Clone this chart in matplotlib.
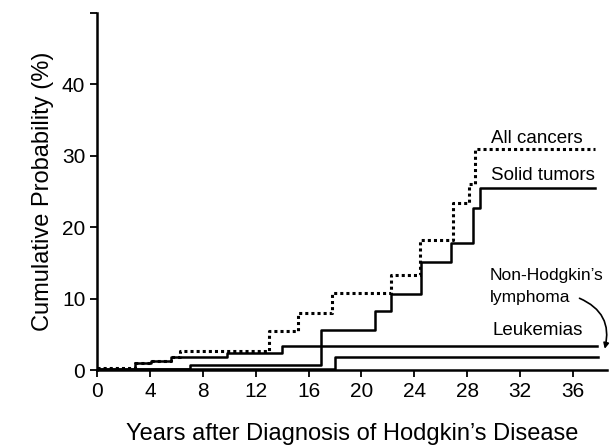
import matplotlib
matplotlib.use("Agg")
import matplotlib.pyplot as plt
import numpy as np

plt.rcParams['font.family'] = ['Liberation Sans', 'DejaVu Sans']

# step curves (years, cumulative %)
all_x = [0, 2.9, 4.05, 5.6, 6.3, 13.0, 15.2, 17.8, 22.2, 24.4, 26.9, 28.1, 28.6, 37.7]
all_y = [0.3, 1.0, 1.3, 1.8, 2.6, 5.5, 8.0, 10.8, 13.3, 18.2, 23.4, 26.0, 31.0, 31.0]

solid_x = [0, 7.0, 16.9, 21.0, 22.2, 24.5, 26.8, 28.4, 29.0, 37.7]
solid_y = [0.2, 0.7, 5.6, 8.2, 10.6, 15.1, 17.8, 22.7, 25.5, 25.5]

nhl_x = [0, 18.0, 37.9]
nhl_y = [0.1, 1.8, 1.8]

leuk_x = [0, 2.9, 4.05, 5.6, 9.8, 14.0, 37.8]
leuk_y = [0.0, 1.0, 1.3, 1.8, 2.4, 3.4, 3.4]

xticks = [0, 4, 8, 12, 16, 20, 24, 28, 32, 36]
yticks = [0, 10, 20, 30, 40, 50]
ytick_labels = ['0', '10', '20', '30', '40', '']

fig = plt.figure(figsize=(6.11, 4.48), dpi=100)
ax = fig.add_axes([0.159, 0.174, 0.835, 0.797])

ax.step(leuk_x, leuk_y, where='post', color='black', lw=1.8)
ax.step(nhl_x, nhl_y, where='post', color='black', lw=1.8)
ax.step(solid_x, solid_y, where='post', color='black', lw=1.8)
ax.step(all_x, all_y, where='post', color='black', lw=2.2, linestyle=(0, (1, 1)))

ax.set_xlim(0, 38.6)
ax.set_ylim(0, 50)
ax.set_xticks(xticks)
ax.set_yticks(yticks, labels=ytick_labels)
ax.tick_params(direction='out', length=5, width=1.3, labelsize=15, colors='black')
ax.spines['top'].set_visible(False)
ax.spines['right'].set_visible(False)
ax.spines['left'].set_linewidth(1.8)
ax.spines['bottom'].set_linewidth(1.8)

ax.set_xlabel("Years after Diagnosis of Hodgkin\u2019s Disease", fontsize=17, labelpad=16)
ax.set_ylabel("Cumulative Probability (%)", fontsize=17, labelpad=6)

fs = 13.5
ax.text(29.8, 32.4, "All cancers", fontsize=fs, va='center', ha='left')
ax.text(29.8, 27.2, "Solid tumors", fontsize=fs, va='center', ha='left')
ax.text(29.7, 13.2, "Non-Hodgkin\u2019s", fontsize=12.5, va='center', ha='left')
ax.text(29.7, 10.2, "lymphoma", fontsize=12.5, va='center', ha='left')
ax.text(29.9, 5.5, "Leukemias", fontsize=fs, va='center', ha='left')

ax.annotate("", xy=(38.35, 2.6), xytext=(36.3, 10.2),
            arrowprops=dict(arrowstyle='-|>', color='black', lw=1.2,
                            connectionstyle='arc3,rad=-0.45', mutation_scale=8),
            annotation_clip=False)

fig.savefig("out.png", dpi=100)
